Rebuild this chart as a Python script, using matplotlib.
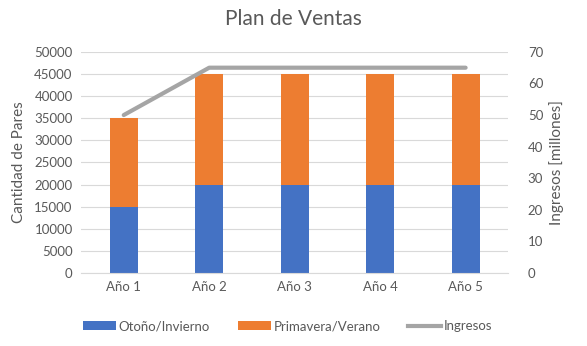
import matplotlib
matplotlib.use("Agg")
import matplotlib.pyplot as plt
import numpy as np
from matplotlib.patches import Patch
from matplotlib.lines import Line2D

plt.rcParams['font.family'] = ['Lato', 'DejaVu Sans']

categories = ["Año 1", "Año 2", "Año 3", "Año 4", "Año 5"]
otono_invierno = [15000, 20000, 20000, 20000, 20000]
primavera_verano = [20000, 25000, 25000, 25000, 25000]
ingresos = [50, 65, 65, 65, 65]

c_blue = "#4472C4"
c_orange = "#ED7D31"
c_gray = "#A5A5A5"
c_text = "#595959"
c_grid = "#D9D9D9"

fig = plt.figure(figsize=(5.87, 3.46), dpi=100)
ax = fig.add_axes([0.138, 0.211, 0.728, 0.639])
x = np.arange(len(categories))

ax.bar(x, otono_invierno, width=0.33, color=c_blue, zorder=2)
ax.bar(x, primavera_verano, width=0.33, bottom=otono_invierno, color=c_orange, zorder=2)

ax.set_xlim(-0.5, len(categories) - 0.5)
ax.set_ylim(0, 50000)
ax.set_yticks(np.arange(0, 50001, 5000))
ax.yaxis.grid(True, color=c_grid, linewidth=0.8, zorder=0)
ax.set_axisbelow(True)
ax.set_xticks(x)
ax.set_xticklabels(categories)
for s in ["top", "right", "left"]:
    ax.spines[s].set_visible(False)
ax.spines["bottom"].set_color(c_grid)
ax.tick_params(axis="both", length=0, colors=c_text, labelsize=9.5, pad=6)
ax.set_ylabel("Cantidad de Pares", color=c_text, fontsize=11, labelpad=6)

ax2 = ax.twinx()
ax2.plot(x, ingresos, color=c_gray, linewidth=3, solid_capstyle="round", zorder=3)
ax2.set_ylim(0, 70)
ax2.set_yticks(np.arange(0, 71, 10))
for s in ["top", "right", "left", "bottom"]:
    ax2.spines[s].set_visible(False)
ax2.tick_params(axis="y", length=0, colors=c_text, labelsize=9.5, pad=14)
ax2.set_ylabel("Ingresos [millones]", color=c_text, fontsize=11, labelpad=4)

fig.suptitle("Plan de Ventas", y=0.975, fontsize=15, color=c_text)

handles = [
    Patch(facecolor=c_blue, label="Otoño/Invierno"),
    Patch(facecolor=c_orange, label="Primavera/Verano"),
    Line2D([0], [0], color=c_gray, linewidth=3, label="Ingresos"),
]
leg = fig.legend(handles=handles, loc="center", bbox_to_anchor=(0.49, 0.057), ncol=3,
                 frameon=False, fontsize=9.5, handlelength=2.5, handleheight=0.7,
                 columnspacing=2.1, handletextpad=0.2)
for t in leg.get_texts():
    t.set_color(c_text)

fig.savefig("out.png", dpi=100)
